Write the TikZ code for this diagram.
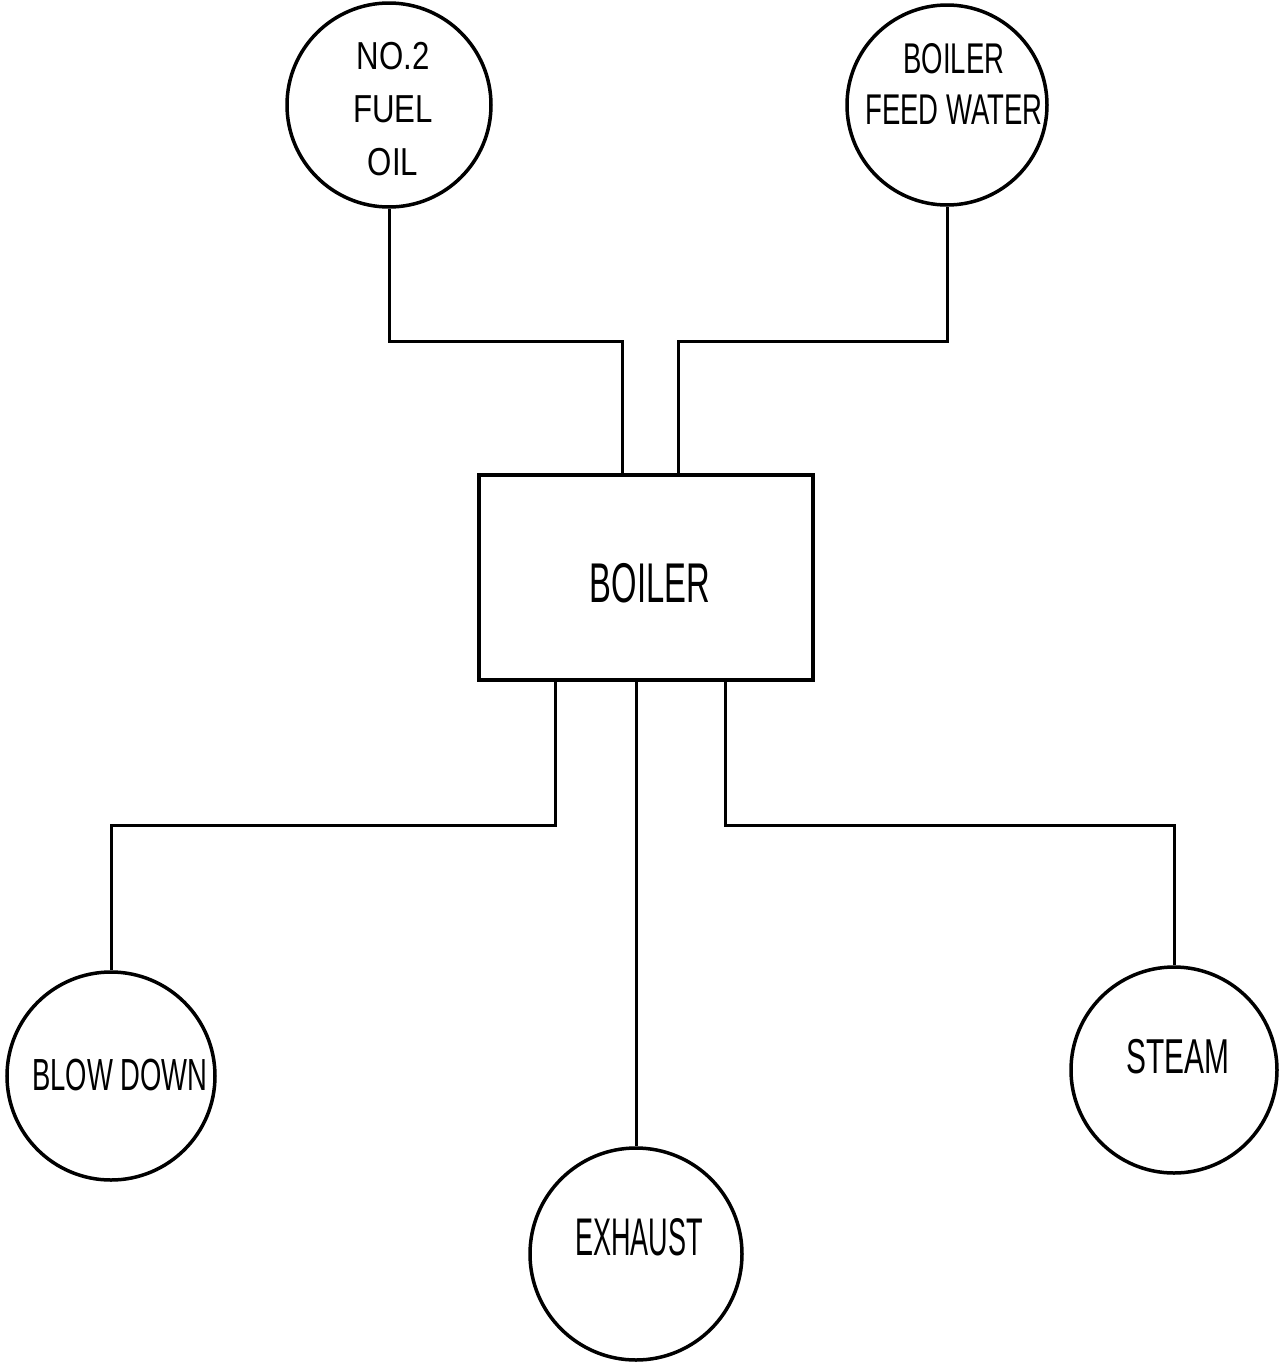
\documentclass[tikz,border=0pt]{standalone}
\usepackage{fontspec}
\setmainfont{Liberation Sans}
\usepackage{graphicx}
\newcommand\hwtext[4]{\scalebox{#1}[1]{\fontsize{#2}{#3}\selectfont\setlength\tabcolsep{0pt}\begin{tabular}{c}#4\end{tabular}}}
\tikzset{
  vessel/.style={draw=black, line width=3.5pt, circle, inner sep=0pt},
  unitbox/.style={draw=black, line width=3.5pt, rectangle, inner sep=0pt},
  lbl/.style={inner sep=0pt, outer sep=0pt},
  pipe/.style={draw=black, line width=3pt, line join=miter}
}
\begin{document}
\begin{tikzpicture}[x=1pt,y=-1pt]
\useasboundingbox (0,0) rectangle (1279,1366);
% circles
\node[vessel, minimum size=204pt] (fuel) at (389,105) {};
\node[vessel, minimum size=200pt] (feed) at (947,105) {};
\node[vessel, minimum size=208pt] (blow) at (111,1076) {};
\node[vessel, minimum size=212pt] (exh) at (636,1254) {};
\node[vessel, minimum size=206pt] (steam) at (1174,1070) {};
% boiler box
\node[unitbox, minimum width=334pt, minimum height=205pt] (boiler) at (646,577.5) {};
% labels
\node[lbl] (boilertxt) at (650,590) {\hwtext{0.585}{56}{60}{BOILER}};
\node[lbl] (fueltxt) at (393,112) {\hwtext{0.8}{39}{53}{NO.2\\FUEL\\OIL}};
\node[lbl] (feedtxt) at (954,89) {\hwtext{0.64}{43}{51}{BOILER\\FEED WATER}};
\node[lbl] (blowtxt) at (120,1081) {\hwtext{0.61}{45}{45}{BLOW DOWN}};
\node[lbl] (exhtxt) at (639,1245) {\hwtext{0.51}{53}{53}{EXHAUST}};
\node[lbl] (steamtxt) at (1178,1064) {\hwtext{0.61}{49}{49}{STEAM}};
% junction coordinates
\coordinate (j1) at (622,341);
\coordinate (j2) at (678,341);
\coordinate (j3) at (555,825);
\coordinate (j4) at (725,825);
% connectors
\draw[pipe] (fuel.south) |- (j1) -- (j1 |- boiler.north);
\draw[pipe] (feed.south) |- (j2) -- (j2 |- boiler.north);
\draw[pipe] (j3 |- boiler.south) -- (j3) -| (blow.north);
\draw[pipe] (exh.north |- boiler.south) -- (exh.north);
\draw[pipe] (j4 |- boiler.south) -- (j4) -| (steam.north);
\end{tikzpicture}
\end{document}
